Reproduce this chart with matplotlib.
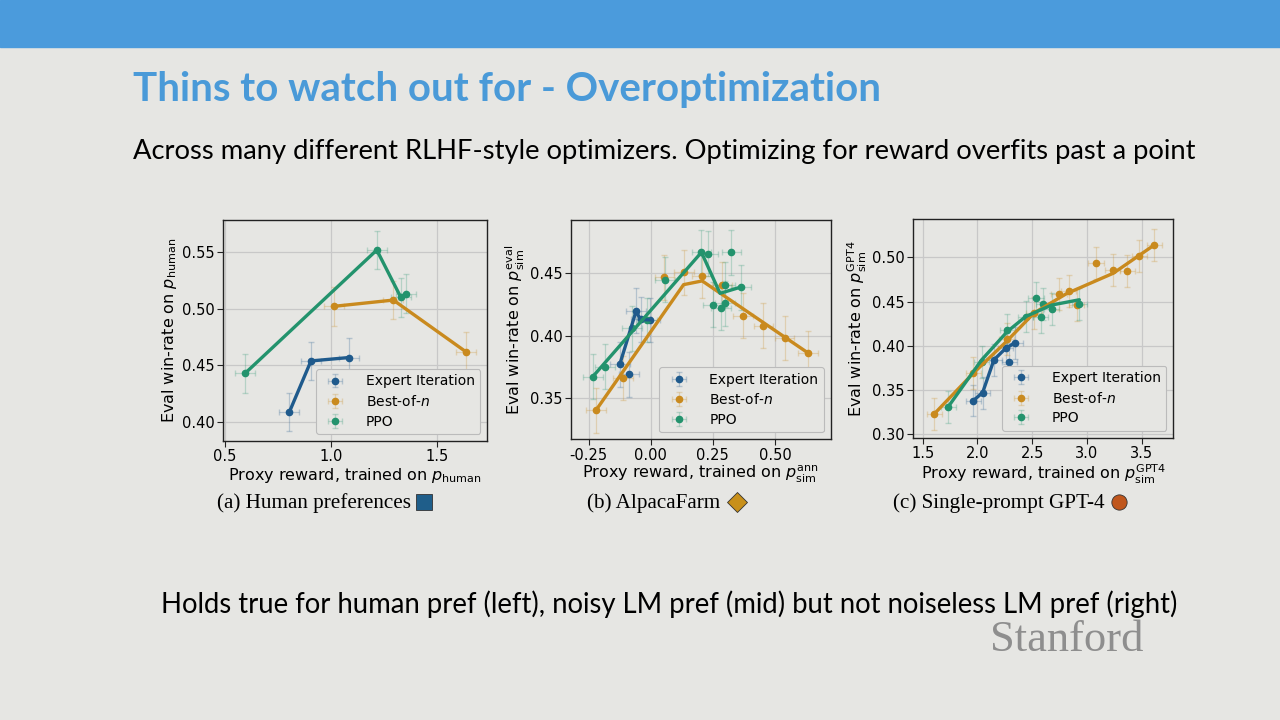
import numpy as np
import matplotlib
matplotlib.use('Agg')
import matplotlib.pyplot as plt
from matplotlib.lines import Line2D

BG = '#e6e6e3'
BLUE = '#1f5a8c'
ORANGE = '#c98a1e'
GREEN = '#23936d'

series_names = ['Expert Iteration', 'Best-of-$n$', 'PPO']
colors = [BLUE, ORANGE, GREEN]

# ---- panel (a) human preferences
a_pts_x = [[0.803, 0.905, 1.085],
           [1.013, 1.293, 1.635],
           [0.594, 1.215, 1.328, 1.351]]
a_pts_y = [[0.409, 0.454, 0.457],
           [0.502, 0.5075, 0.462],
           [0.443, 0.5515, 0.510, 0.513]]
a_line_x = a_pts_x
a_line_y = a_pts_y

# ---- panel (b) AlpacaFarm
b_pts_x = [[-0.125, -0.059, -0.040, -0.005, -0.089],
           [-0.221, -0.112, 0.055, 0.132, 0.207, 0.286, 0.371, 0.454, 0.539, 0.634],
           [-0.234, -0.186, -0.076, -0.017, 0.058, 0.204, 0.230, 0.325,
            0.250, 0.282, 0.299, 0.299, 0.362]]
b_pts_y = [[0.377, 0.420, 0.413, 0.4126, 0.369],
           [0.340, 0.366, 0.447, 0.451, 0.448, 0.441, 0.416, 0.408, 0.398, 0.386],
           [0.367, 0.375, 0.406, 0.4126, 0.445, 0.467, 0.466, 0.467,
            0.425, 0.4225, 0.441, 0.426, 0.439]]
b_line_x = [[-0.125, -0.059, -0.043, 0.003],
            [-0.221, 0.132, 0.207, 0.634],
            [-0.234, 0.204, 0.279, 0.362]]
b_line_y = [[0.377, 0.420, 0.413, 0.4126],
            [0.340, 0.441, 0.444, 0.386],
            [0.367, 0.467, 0.434, 0.439]]

# ---- panel (c) single-prompt GPT-4
c_pts_x = [[1.963, 2.048, 2.151, 2.258, 2.291, 2.343],
           [1.607, 1.963, 2.267, 2.517, 2.745, 2.833, 2.906, 3.083, 3.235, 3.369, 3.479, 3.616],
           [1.734, 2.039, 2.273, 2.441, 2.535, 2.578, 2.602, 2.678, 2.931]]
c_pts_y = [[0.338, 0.347, 0.384, 0.397, 0.3815, 0.4034],
           [0.323, 0.369, 0.408, 0.437, 0.4585, 0.462, 0.446, 0.494, 0.486, 0.485, 0.5015, 0.514],
           [0.331, 0.382, 0.418, 0.433, 0.4536, 0.432, 0.447, 0.442, 0.447]]
c_line_x = [[1.963, 2.048, 2.151, 2.258, 2.343],
            [1.607, 1.963, 2.267, 2.517, 2.815, 3.241, 3.616],
            [1.734, 2.039, 2.273, 2.441, 2.678, 2.931]]
c_line_y = [[0.338, 0.347, 0.384, 0.397, 0.4034],
            [0.323, 0.369, 0.405, 0.437, 0.459, 0.482, 0.514],
            [0.331, 0.384, 0.416, 0.433, 0.446, 0.452]]

panels = [
  dict(px=a_pts_x, py=a_pts_y, lx=a_line_x, ly=a_line_y, xerr=0.047, yerr=0.017,
       xlim=(0.492, 1.7355), ylim=(0.3836, 0.5779), xticks=[0.5, 1.0, 1.5],
       yticks=[0.40, 0.45, 0.50, 0.55], xfmt='%.1f',
       xlabel=r'Proxy reward, trained on $p_{\rm human}$',
       ylabel=r'Eval win-rate on $p_{\rm human}$',
       rect=[223.3, 220, 487.3, 441],
       caption='(a) Human preferences', cap_x=314, mk='s', mkc='#1f5e8a', mk_x=424),
  dict(px=b_pts_x, py=b_pts_y, lx=b_line_x, ly=b_line_y, xerr=0.04, yerr=0.018,
       xlim=(-0.323, 0.725), ylim=(0.3166, 0.493), xticks=[-0.25, 0.0, 0.25, 0.50],
       yticks=[0.35, 0.40, 0.45], xfmt='%.2f',
       xlabel=r'Proxy reward, trained on $p^{\rm ann}_{\rm sim}$',
       ylabel=r'Eval win-rate on $p^{\rm eval}_{\rm sim}$',
       rect=[570.7, 220, 830.7, 439.3],
       caption='(b) AlpacaFarm', cap_x=653.5, mk='D', mkc='#c8901a', mk_x=737),
  dict(px=c_pts_x, py=c_pts_y, lx=c_line_x, ly=c_line_y, xerr=0.07, yerr=0.018,
       xlim=(1.415, 3.789), ylim=(0.296, 0.543), xticks=[1.5, 2.0, 2.5, 3.0, 3.5],
       yticks=[0.30, 0.35, 0.40, 0.45, 0.50], xfmt='%.1f',
       xlabel=r'Proxy reward, trained on $p^{\rm GPT4}_{\rm sim}$',
       ylabel=r'Eval win-rate on $p^{\rm GPT4}_{\rm sim}$',
       rect=[913.3, 219.3, 1173.3, 437.7],
       caption='(c) Single-prompt GPT-4', cap_x=998.5, mk='o', mkc='#c0561c', mk_x=1119),
]

W, H = 1280, 720
fig = plt.figure(figsize=(12.8, 7.2), dpi=100, facecolor=BG)

# slide header band
fig.add_artist(plt.Rectangle((0, 1 - 47/H), 1, 47/H, transform=fig.transFigure,
                             color='#4b9bdc', zorder=0))

fig.text(133/W, 1 - 89/H, 'Thins to watch out for - Overoptimization', fontsize=29,
         fontweight='bold', color='#4a9ad8', family='Lato', va='center', ha='left')
fig.text(133/W, 1 - 151/H,
         'Across many different RLHF-style optimizers. Optimizing for reward overfits past a point',
         fontsize=19.7, color='black', family='Lato', va='center', ha='left')
fig.text(161/W, 1 - 604/H,
         'Holds true for human pref (left), noisy LM pref (mid) but not noiseless LM pref (right)',
         fontsize=19.8, color='black', family='Lato', va='center', ha='left')
fig.text(1067/W, 1 - 620/H, 'Stanford', fontsize=32, color='#8e8e8e',
         family='Liberation Serif', va='top', ha='center')

for p in panels:
  x0, y0, x1, y1 = p['rect']
  ax = fig.add_axes([x0/W, 1 - y1/H, (x1 - x0)/W, (y1 - y0)/H])
  ax.set_facecolor(BG)
  ax.grid(True, color='#c8c8c8', linewidth=0.9)
  ax.set_axisbelow(True)
  for s in ax.spines.values():
    s.set_color('#222222')
    s.set_linewidth(1.0)
  for i in range(3):
    ax.errorbar(p['px'][i], p['py'][i], xerr=p['xerr'], yerr=p['yerr'], fmt='o',
                color=colors[i], ms=4.5, ecolor=colors[i], elinewidth=0.9, capsize=2,
                label=series_names[i], zorder=3)
  # make error bars light
  for c in ax.collections:
    c.set_alpha(0.25)
  for ln in ax.lines:
    if ln.get_marker() in ('_', '|'):
      ln.set_alpha(0.25)
  for i in range(3):
    ax.plot(p['lx'][i], p['ly'][i], color=colors[i], linewidth=2.4, zorder=4,
            solid_capstyle='round')
  ax.set_xlim(*p['xlim'])
  ax.set_ylim(*p['ylim'])
  ax.set_xticks(p['xticks'])
  ax.set_xticklabels([p['xfmt'] % v for v in p['xticks']])
  ax.set_yticks(p['yticks'])
  ax.set_yticklabels(['%.2f' % v for v in p['yticks']])
  ax.tick_params(labelsize=10.5, length=4, color='#222222', pad=2)
  ax.set_xlabel(p['xlabel'], fontsize=11.5, labelpad=1)
  ax.set_ylabel(p['ylabel'], fontsize=11.5, labelpad=2)
  leg = ax.legend(loc='lower right', fontsize=10, frameon=True, facecolor=BG,
                  edgecolor='#bbbbbb', framealpha=1.0, borderaxespad=0.5,
                  handletextpad=1.2, labelspacing=0.4)
  leg.get_frame().set_linewidth(0.8)
  fig.text(p['cap_x']/W, 1 - 503/H, p['caption'], fontsize=15.2, family='Liberation Serif',
           ha='center', va='center', color='black')
  fig.add_artist(Line2D([p['mk_x']/W], [1 - 502/H], marker=p['mk'], ms=11 if p['mk'] != 'D' else 10,
                        color=p['mkc'], markeredgecolor='#333333', markeredgewidth=0.6,
                        transform=fig.transFigure))

fig.savefig('out.png', dpi=100, facecolor=BG)
